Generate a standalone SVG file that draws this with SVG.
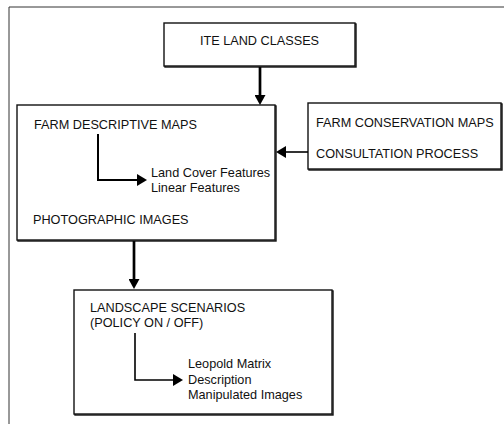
<svg xmlns="http://www.w3.org/2000/svg" width="504" height="424" viewBox="0 0 504 424">
<style>
.box{fill:#fff;stroke:#111;stroke-width:1.4}
.sh{fill:none;stroke:#111;stroke-width:1.4}
.t{font-family:"Liberation Sans",Arial,Helvetica,sans-serif;font-size:12.7px;fill:#111}
.thick{fill:none;stroke:#000;stroke-width:2.7}
.thin{fill:none;stroke:#000;stroke-width:1.6}
</style>
<defs>
<marker id="ah" viewBox="0 0 10 11" refX="0" refY="5.5" markerWidth="10" markerHeight="11" markerUnits="userSpaceOnUse" orient="auto">
<path d="M0,0 L10,5.5 L0,11 z" fill="#000"/>
</marker>
<marker id="ahs" viewBox="0 0 10 12" refX="0" refY="6" markerWidth="10" markerHeight="12" markerUnits="userSpaceOnUse" orient="auto">
<path d="M0,0 L10,6 L0,12 z" fill="#000"/>
</marker>
</defs>
<rect width="504" height="424" fill="#fff"/>
<path d="M9,424 V7 H504" fill="none" stroke="#333" stroke-width="1"/>
<g id="ite">
<rect class="sh" x="165" y="24" width="191" height="43"/>
<rect class="box" x="164" y="23" width="191" height="43"/>
<text class="t" x="259.5" y="45" text-anchor="middle">ITE LAND CLASSES</text>
</g>
<g id="farm">
<rect class="sh" x="18" y="106" width="258" height="135"/>
<rect class="box" x="17" y="105" width="258" height="135"/>
<text class="t" x="34" y="129">FARM DESCRIPTIVE MAPS</text>
<text class="t" x="151" y="177">Land Cover Features</text>
<text class="t" x="151" y="192">Linear Features</text>
<text class="t" x="33" y="224">PHOTOGRAPHIC IMAGES</text>
</g>
<g id="conservation">
<rect class="sh" x="309" y="104" width="193" height="66"/>
<rect class="box" x="308" y="103" width="193" height="66"/>
<text class="t" x="316" y="127">FARM CONSERVATION MAPS</text>
<text class="t" x="316" y="158">CONSULTATION PROCESS</text>
</g>
<g id="landscape">
<rect class="sh" x="75" y="291" width="258" height="124"/>
<rect class="box" x="74" y="290" width="258" height="124"/>
<text class="t" x="90" y="312">LANDSCAPE SCENARIOS</text>
<text class="t" x="90" y="327">(POLICY ON / OFF)</text>
<text class="t" x="188" y="368">Leopold Matrix</text>
<text class="t" x="188" y="384">Description</text>
<text class="t" x="188" y="399">Manipulated Images</text>
</g>
<g id="connectors">
<path class="thick" d="M260,67 V95" marker-end="url(#ah)"/>
<path class="thin" d="M308,152 H286" marker-end="url(#ahs)"/>
<path class="thick" d="M134,241 V279" marker-end="url(#ah)"/>
<path class="thick" d="M98,134 V180 H137" marker-end="url(#ahs)" style="stroke-width:2"/>
<path class="thin" d="M135,333 V380 H173" marker-end="url(#ahs)"/>
</g>
</svg>
